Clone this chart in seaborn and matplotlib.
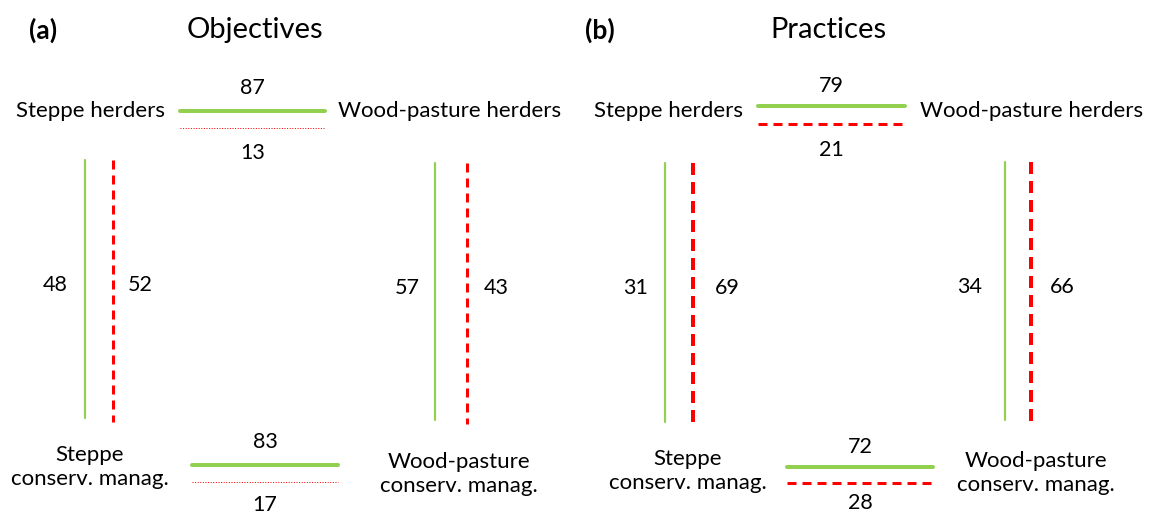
import matplotlib
matplotlib.use("Agg")
import matplotlib.pyplot as plt
import seaborn as sns

# ---- data ----
panels = ["Objectives", "Practices"]
panel_tags = ["(a)", "(b)"]
edges = ["top", "left", "right", "bottom"]
# agreement (green) and disagreement (red) percentages per edge
objectives_agree = [87, 48, 57, 83]
objectives_disagree = [13, 52, 43, 17]
practices_agree = [79, 31, 34, 72]
practices_disagree = [21, 69, 66, 28]
node_labels = ["Steppe herders", "Wood-pasture herders",
               "Steppe\nconserv. manag.", "Wood-pasture\nconserv. manag."]

# ---- layout (pixel frame of the 1149x516 canvas) ----
W, H = 1149, 516
GREEN = "#92D050"
RED = "#FF0000"
PX = 72.0 / 100.0  # points per pixel at dpi 100

sns.set_theme(style="white")
plt.rcParams["font.family"] = ["Lato", "DejaVu Sans"]
plt.rcParams["lines.scale_dashes"] = False

fig = plt.figure(figsize=(W / 100, H / 100), dpi=100)
ax = fig.add_axes([0, 0, 1, 1])
ax.set_xlim(0, W)
ax.set_ylim(H, 0)
ax.axis("off")


def width_px(v, solid):
    if v < 20:
        return 1.0
    if solid:
        return 2.2 if v < 60 else 4.0
    return 3.0 if v < 60 else 4.0


def draw(x, y, v, color, solid):
    w = width_px(v, solid)
    if solid:
        ls = "-"
    elif v < 20:
        ls = (0, (1.0 * PX, 1.6 * PX))
    elif v < 60:
        ls = (0, (9 * PX, 6 * PX))
    else:
        ls = (0, (12 * PX, 7 * PX))
    sns.lineplot(x=x, y=y, ax=ax, color=color, linewidth=w * PX, linestyle=ls,
                 sort=False, estimator=None, legend=False)


# geometry of each panel (absolute pixel positions)
geom = [
    dict(top=(180, 325, 111, 128, 88, 153),
         bottom=(192, 338, 465, 482, 442, 505),
         left=(85, 113, 160, 418, 55, 140),
         right=(435, 467, 163, 420, 407, 496),
         tag=(43, 30), title=(255, 30),
         nodes=[(90, 111), (450, 111), (90, 467), (459, 474)]),
    dict(top=(758, 905, 106, 124, 86, 150),
         bottom=(787, 933, 467, 483, 447, 503),
         left=(665, 693, 163, 422, 636, 727),
         right=(1005, 1031, 162, 420, 970, 1062),
         tag=(600, 30), title=(828, 30),
         nodes=[(668, 111), (1032, 111), (688, 471), (1036, 473)]),
]

data = [(objectives_agree, objectives_disagree), (practices_agree, practices_disagree)]
NUM_FS = 15.5
LAB_FS = 16

for p in range(2):
    g = geom[p]
    agree, disagree = data[p]
    ax.text(*g["tag"], panel_tags[p], fontsize=19, fontweight="bold",
            ha="center", va="center", color="black")
    ax.text(*g["title"], panels[p], fontsize=21, ha="center",
            va="center", color="black")
    # horizontal edges
    for i, key in [(0, "top"), (3, "bottom")]:
        x0, x1, yg, yr, yt, yb = g[key]
        draw([x0, x1], [yg, yg], agree[i], GREEN, True)
        draw([x0, x1], [yr, yr], disagree[i], RED, False)
        ax.text((x0 + x1) / 2, yt, str(agree[i]), fontsize=NUM_FS,
                ha="center", va="center", color="black")
        ax.text((x0 + x1) / 2, yb, str(disagree[i]), fontsize=NUM_FS,
                ha="center", va="center", color="black")
    # vertical edges
    for i, key in [(1, "left"), (2, "right")]:
        xg, xr, y0, y1, xtl, xtr = g[key]
        draw([xg, xg], [y0, y1], agree[i], GREEN, True)
        draw([xr, xr], [y0, y1 + 4], disagree[i], RED, False)
        ym = (y0 + y1) / 2 - 4
        ax.text(xtl, ym, str(agree[i]), fontsize=NUM_FS, ha="center",
                va="center", color="black")
        ax.text(xtr, ym, str(disagree[i]), fontsize=NUM_FS, ha="center",
                va="center", color="black")
    for (nx, ny), lab in zip(g["nodes"], node_labels):
        ax.text(nx, ny, lab, fontsize=LAB_FS, ha="center", va="center",
                color="black", linespacing=1.25)

fig.savefig("out.png", dpi=100, facecolor="white")
